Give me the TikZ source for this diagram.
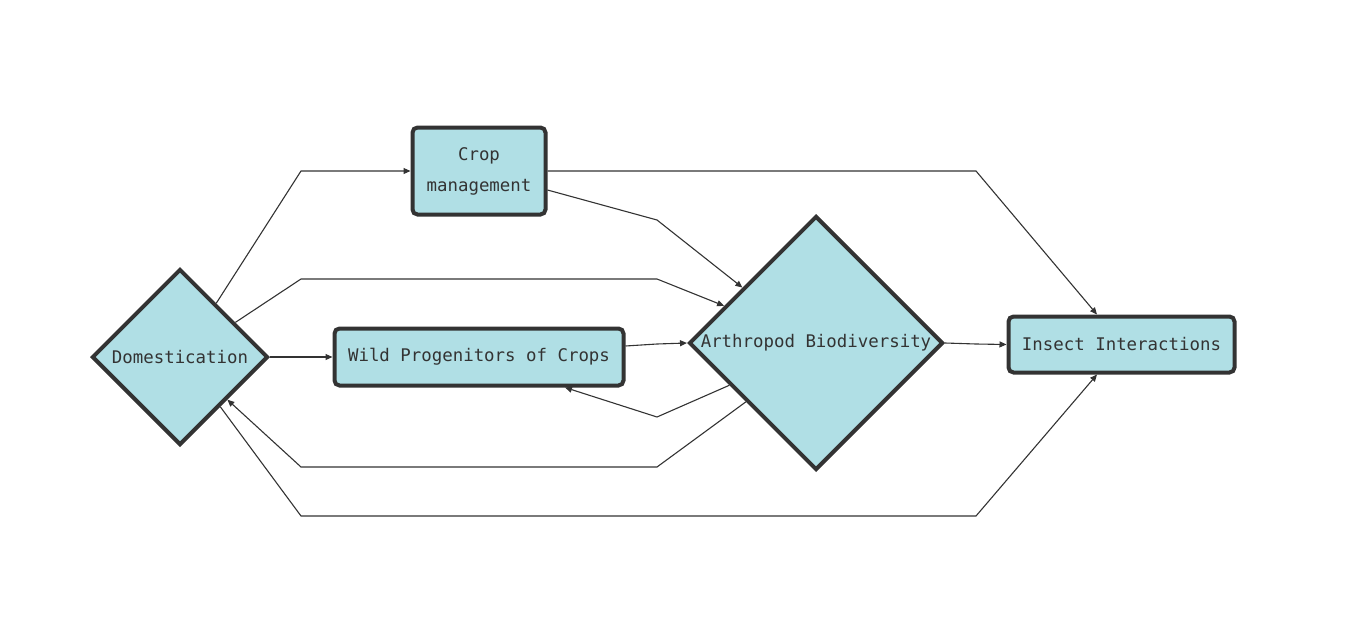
\documentclass[tikz,border=0pt]{standalone}
\usepackage{fontspec}
\setmonofont{DejaVu Sans Mono}
\usetikzlibrary{shapes.geometric,arrows.meta,calc}
\definecolor{nodefill}{RGB}{176,223,229}
\definecolor{ink}{RGB}{51,51,51}
\tikzset{
  base/.style={draw=ink, line width=4pt, fill=nodefill, text=ink, inner sep=0pt,
    font=\ttfamily\fontsize{17.4}{31}\selectfont, align=center},
  dia/.style={base, diamond, aspect=1},
  boxnode/.style={base, rectangle, rounded corners=5pt},
  conn/.style={draw=ink, line width=1.1pt, -{Triangle[length=7pt,width=6pt]}},
  plain/.style={draw=ink, line width=1.1pt}
}
\begin{document}
\begin{tikzpicture}[x=1pt,y=-1pt]
\useasboundingbox (0,0) rectangle (1354,642);
\node[dia, minimum size=176pt] (dom) at (180,357) {Domestication};
\node[boxnode, minimum width=133pt, minimum height=87pt] (crop) at (479,171) {\raisebox{-2pt}{Crop}\\\raisebox{-2pt}{management}};
\node[boxnode, minimum width=289pt, minimum height=57pt] (wild) at (479,357) {\raisebox{-2pt}{Wild Progenitors of Crops}};
\node[dia, minimum size=254pt] (arth) at (816,343) {\raisebox{-2pt}{Arthropod Biodiversity}};
\node[boxnode, minimum width=226pt, minimum height=56pt] (ins) at (1121.5,344.5) {Insect Interactions};

\draw[conn] (dom.56) -- (301,171) -- (crop.west);
\draw[conn] (dom.32) -- (301,279) -- (657,279) -- (arth.158);
\draw[conn] ($(crop.east)+(0,19)$) -- (657,220) -- (arth.143);
\draw[conn] (dom.east) -- (301,357) -- (wild.west);
\draw[conn] ($(wild.east)+(0,-11)$) -- (657,344) -- (arth.west);
\draw[conn] (arth.206) -- (657,417) -- ($(wild.south)+(86,0)$);
\draw[conn] (arth.220) -- (657,467) -- (301,467) -- (dom.-42);
\draw[conn] (dom.-51) -- (301,516) -- (976,516) -- ($(ins.south)+(-24.5,0)$);
\draw[conn] (crop.east) -- (976,171) -- ($(ins.north)+(-24.5,0)$);
\draw[conn] (arth.east) -- (976,344) -- (ins.west);
\end{tikzpicture}
\end{document}
